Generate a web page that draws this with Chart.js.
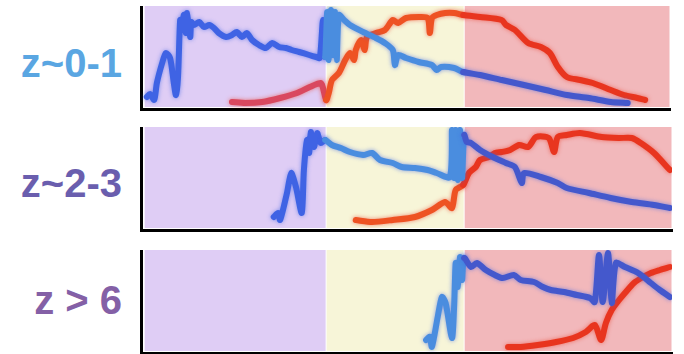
<!DOCTYPE html>
<html>
<head>
<meta charset="utf-8">
<script src="https://cdn.jsdelivr.net/npm/chart.js@4.4.1/dist/chart.umd.min.js"></script>
<style>
  html, body { margin: 0; padding: 0; background: #fff; }
  #wrap { position: relative; width: 684px; height: 354px; overflow: hidden; }
  .lbl {
    position: absolute; right: 562px;
    font-family: "Liberation Sans", Arial, sans-serif; font-weight: bold;
    font-size: 40px; line-height: 1; white-space: nowrap;
  }
  .box { position: absolute; left: 138px; }
</style>
</head>
<body>
<div id="wrap">
  <div class="lbl" style="top:43px;color:#5aa6e2">z~0-1</div>
  <div class="lbl" style="top:163px;color:#6a5eae">z~2-3</div>
  <div class="lbl" style="top:280px;color:#8460a6">z &gt; 6</div>
  <div class="box" style="top:6px"><canvas id="p1" width="536" height="106"></canvas></div>
  <div class="box" style="top:127px"><canvas id="p2" width="536" height="106"></canvas></div>
  <div class="box" style="top:250px"><canvas id="p3" width="536" height="106"></canvas></div>
</div>
<script>
// band edges along x (same for all three panels)
const bandEdges = [0.6, 35.0, 61.1, 100.4];
const bandColors = ["#dfcdf5", "#f7f5d8", "#f2b8bb"];
const blueByBand = ["#3f63e4", "#4a8ddf", "#4458cc"];
const redByBand = ["#d9485f", "#ee5223", "#e8351f"];

// panel 1, z~0-1  [x, y]
const p1Blue = [[1.1,10],[1.7,13],[2.5,7],[3.0,24],[4.0,44],[4.7,54],[5.5,49],[6.2,24],[6.6,12],[7.0,30],
  [7.4,87],[7.7,77],[8.1,92],[8.5,74],[8.7,94],[9.3,70],[9.5,85],[10.0,82],[11.0,85],[11.9,80],[12.9,82],
  [13.8,79],[14.7,74],[16.1,70],[17.2,72],[18.1,75],[19.1,70],[20.0,74],[21.0,67],[22.3,62],[23.6,59],
  [24.8,64],[26.1,60],[27.4,59],[28.5,57],[29.9,55],[31.8,52],[33.1,50],[33.8,49],[34.4,87],[34.8,50],
  [35.2,95],[35.5,47],[35.9,97],[36.3,52],[36.7,95],[37.0,47],[37.4,92],[38.4,87],[39.5,82],[42.0,75],
  [44.4,69],[46.1,64],[47.6,57],[48.0,42],[48.6,52],[50.1,49],[52.5,45],[55.0,42],[55.9,37],[56.7,40],
  [59.2,39],[60.9,35],[64.1,32],[68.2,27],[72.4,22],[76.5,17],[80.5,12],[84.7,9],[88.8,5],[92.0,4]];
const p1Red = [[17.2,5],[19.7,4],[22.9,5],[26.3,9],[29.5,14],[31.9,20],[34.0,24],[34.4,19],[35.0,7],[35.5,14],
  [36.1,27],[37.4,34],[38.6,47],[39.5,54],[40.3,47],[40.6,57],[41.6,67],[42.3,57],[42.7,70],[44.4,74],
  [46.1,77],[47.6,87],[48.6,84],[50.1,89],[52.5,90],[54.2,89],[54.6,74],[55.0,89],[55.9,92],[57.5,94],
  [59.2,94],[60.9,92],[64.1,90],[68.2,87],[69.0,82],[70.7,77],[73.2,64],[75.6,60],[77.3,54],[78.8,40],
  [80.5,30],[83.0,27],[85.4,24],[88.8,17],[91.3,12],[93.8,9],[95.3,7]];

// panel 2, z~2-3
const p2Blue = [[25.1,12],[25.9,16],[26.3,9],[27.6,36],[28.4,56],[29.3,42],[30.4,16],[30.8,59],[31.4,89],
  [31.8,76],[32.1,97],[32.7,82],[33.3,96],[34.0,86],[34.8,89],[36.1,84],[37.8,81],[39.5,77],[42.0,74],
  [43.7,76],[45.2,69],[47.6,66],[49.3,62],[51.8,61],[54.2,59],[55.9,56],[58.4,52],[58.8,99],[59.2,51],
  [59.5,99],[59.9,49],[60.3,99],[60.7,51],[61.1,94],[61.6,87],[62.4,86],[64.1,79],[66.5,72],[69.0,66],
  [70.7,62],[72.0,46],[72.4,56],[75.6,52],[78.8,46],[80.5,41],[84.7,36],[88.8,31],[92.8,27],[97.0,24],[100,21]];
const p2Red = [[40.6,9],[43.7,7],[47.6,9],[51.8,12],[55.0,19],[57.5,27],[58.8,21],[59.5,39],[60.9,44],
  [62.0,56],[63.3,62],[64.1,69],[65.8,72],[66.9,76],[68.2,77],[69.8,79],[71.5,84],[73.2,82],[74.7,92],
  [77.1,91],[78.1,77],[78.8,92],[80.5,94],[83.0,96],[87.1,92],[90.3,91],[92.8,91],[94.5,86],[97.0,76],[100,59]];

// panel 3, z > 6
const p3Blue = [[53.9,11],[54.6,14],[55.0,4],[56.1,34],[56.9,54],[57.6,48],[58.8,13],[59.2,44],[59.5,88],
  [59.9,64],[60.3,94],[60.7,71],[61.1,93],[62.4,84],[63.5,88],[65.2,81],[66.9,76],[68.4,73],[70.5,76],
  [71.8,71],[74.3,69],[76.0,64],[77.5,61],[80.0,59],[82.4,56],[84.9,53],[85.8,49],[86.6,96],[87.3,49],
  [88.3,98],[89.0,48],[89.8,88],[91.5,84],[94.0,78],[96.4,68],[98.1,61],[100,54]];
const p3Red = [[69.4,4],[71.8,4],[75.0,6],[78.5,9],[81.7,13],[84.1,19],[85.8,26],[87.0,11],[87.9,28],
  [89.0,41],[90.4,51],[91.5,58],[93.2,68],[94.9,74],[96.4,78],[98.1,81],[100,84]];

function bandIndex(x) {
  if (x < bandEdges[1]) return 0;
  if (x < bandEdges[2]) return 1;
  return 2;
}

// colour bands behind the lines
const bands = {
  id: "bands",
  beforeDraw(chart) {
    const { ctx, chartArea: a, scales: { x } } = chart;
    ctx.save();
    for (let i = 0; i < bandColors.length; i++) {
      const l = Math.max(x.getPixelForValue(bandEdges[i]), a.left + 3);
      const r = Math.min(x.getPixelForValue(bandEdges[i + 1]), a.right);
      ctx.fillStyle = bandColors[i];
      ctx.fillRect(l + 0.5, a.top, r - l - 1, a.bottom - a.top - 2);
    }
    ctx.restore();
  }
};

// soft marker-pen edge on the lines
const softLines = {
  id: "softLines",
  beforeDatasetDraw(chart, args) {
    const ctx = chart.ctx;
    ctx.save();
    ctx.shadowColor = args.index === 0 ? "rgba(60,100,230,0.6)" : "rgba(235,60,40,0.6)";
    ctx.shadowBlur = 4;
  },
  afterDatasetDraw(chart) {
    chart.ctx.restore();
  }
};

function series(pairs, colors) {
  return {
    data: pairs.map(p => ({ x: p[0], y: p[1] })),
    borderColor: colors[0],
    borderWidth: 6,
    tension: 0.25,
    pointRadius: 0,
    borderCapStyle: "round",
    borderJoinStyle: "round",
    segment: {
      borderColor: c => colors[bandIndex((c.p0.parsed.x + c.p1.parsed.x) / 2)]
    }
  };
}

function makePanel(id, blue, red, xMax, padRight, yMin, yMax) {
  return new Chart(document.getElementById(id), {
    type: "line",
    data: { datasets: [series(blue, blueByBand), series(red, redByBand)] },
    options: {
      responsive: false,
      animation: false,
      layout: { autoPadding: false, padding: { left: 3, right: padRight, top: 0, bottom: 3 } },
      plugins: { legend: { display: false }, tooltip: { enabled: false } },
      scales: {
        x: {
          type: "linear", min: 0, max: xMax,
          grid: { display: false, drawTicks: false },
          ticks: { display: false },
          border: { display: true, color: "#000", width: 3 }
        },
        y: {
          min: yMin, max: yMax,
          grid: { display: false, drawTicks: false },
          ticks: { display: false },
          border: { display: true, color: "#000", width: 3 }
        }
      }
    },
    plugins: [bands, softLines]
  });
}

makePanel("p1", p1Blue, p1Red, 100, 4, -2, 101);
makePanel("p2", p2Blue, p2Red, 100.4, 2, -1, 102);
makePanel("p3", p3Blue, p3Red, 100.4, 2, -2, 101);
</script>
</body>
</html>
